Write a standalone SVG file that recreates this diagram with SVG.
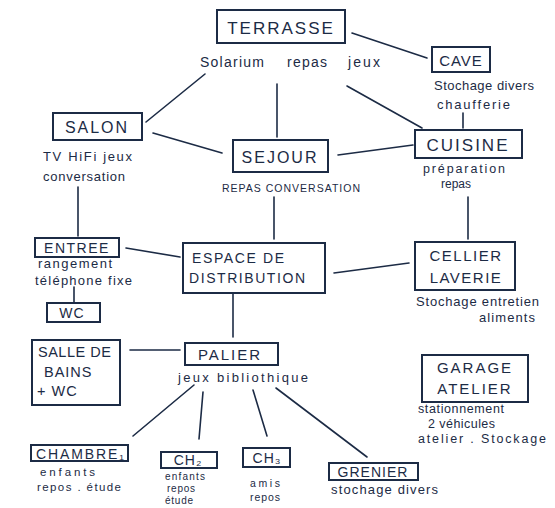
<svg xmlns="http://www.w3.org/2000/svg" width="555" height="508" viewBox="0 0 555 508">
<style>
.box{fill:none;stroke:#1c2b45;stroke-width:2}
.ln{stroke:#1c2b45;stroke-width:1.6;fill:none;stroke-linecap:round}
.t{font-family:"Liberation Sans",Arial,sans-serif;fill:#1c2b45}
.s{font-family:"Liberation Sans",Arial,sans-serif;fill:#1c2b45}
.m{text-anchor:middle}
</style>
<rect width="555" height="508" fill="#ffffff"/>
<g id="connectors">
<line class="ln" x1="205" y1="74" x2="146" y2="122"/>
<line class="ln" x1="277" y1="84" x2="277" y2="137"/>
<line class="ln" x1="352" y1="33" x2="427" y2="58"/>
<line class="ln" x1="347" y1="86" x2="422" y2="128"/>
<line class="ln" x1="153" y1="133" x2="222" y2="153"/>
<line class="ln" x1="338" y1="155" x2="413" y2="145"/>
<line class="ln" x1="463" y1="113" x2="463" y2="128"/>
<line class="ln" x1="78" y1="187" x2="78" y2="236"/>
<line class="ln" x1="274" y1="197" x2="274" y2="239"/>
<line class="ln" x1="468" y1="197" x2="468" y2="239"/>
<line class="ln" x1="126" y1="248" x2="180" y2="257"/>
<line class="ln" x1="334" y1="273" x2="409" y2="263"/>
<line class="ln" x1="74" y1="287" x2="74" y2="302"/>
<line class="ln" x1="233" y1="294" x2="233" y2="337"/>
<line class="ln" x1="130" y1="350" x2="180" y2="350"/>
<line class="ln" x1="194" y1="385" x2="133" y2="436"/>
<line class="ln" x1="203" y1="392" x2="199" y2="439"/>
<line class="ln" x1="253" y1="390" x2="267" y2="436"/>
<line class="ln" x1="276" y1="388" x2="367" y2="457"/>
</g>
<g id="terrasse">
<rect class="box" x="217" y="10" width="128" height="33"/>
<text class="t m" x="281" y="34" font-size="17" letter-spacing="2">TERRASSE</text>
<text class="s" x="200" y="67" font-size="14" textLength="64">Solarium</text>
<text class="s" x="287" y="67" font-size="14" textLength="40">repas</text>
<text class="s" x="348" y="67" font-size="14" textLength="32">jeux</text>
</g>
<g id="cave">
<rect class="box" x="432" y="47" width="58" height="25"/>
<text class="t m" x="461" y="66" font-size="15" letter-spacing="1">CAVE</text>
<text class="s" x="434" y="90" font-size="13" textLength="100">Stochage divers</text>
<text class="s" x="437" y="109" font-size="13" textLength="73">chaufferie</text>
</g>
<g id="salon">
<rect class="box" x="53" y="113" width="89" height="27"/>
<text class="t m" x="97" y="133" font-size="16" letter-spacing="2">SALON</text>
<text class="s" x="43" y="161" font-size="13" textLength="89">TV HiFi jeux</text>
<text class="s" x="43" y="181" font-size="13" textLength="82">conversation</text>
</g>
<g id="sejour">
<rect class="box" x="233" y="140" width="95" height="32"/>
<text class="t m" x="280" y="163" font-size="16" letter-spacing="2">SEJOUR</text>
<text class="s" x="222" y="192" font-size="10.5" textLength="138">REPAS CONVERSATION</text>
</g>
<g id="cuisine">
<rect class="box" x="415" y="130" width="107" height="28"/>
<text class="t m" x="468" y="151" font-size="17" letter-spacing="2">CUISINE</text>
<text class="s" x="423" y="173" font-size="12.5" textLength="82">préparation</text>
<text class="s" x="441" y="188" font-size="12">repas</text>
</g>
<g id="entree">
<rect class="box" x="35" y="238" width="84" height="19"/>
<text class="t m" x="77" y="253" font-size="14" letter-spacing="1.5">ENTREE</text>
<text class="s" x="38" y="268" font-size="13" textLength="74">rangement</text>
<text class="s" x="35" y="285" font-size="13" textLength="97">téléphone fixe</text>
</g>
<g id="wc">
<rect class="box" x="47" y="303" width="53" height="19"/>
<text class="t m" x="72" y="318" font-size="14" letter-spacing="1">WC</text>
</g>
<g id="espace">
<rect class="box" x="183" y="243" width="142" height="50"/>
<text class="t" x="192" y="263" font-size="14" textLength="92">ESPACE DE</text>
<text class="t" x="189" y="283" font-size="14" textLength="116">DISTRIBUTION</text>
</g>
<g id="cellier">
<rect class="box" x="415" y="242" width="100" height="48"/>
<text class="t m" x="466" y="261" font-size="15" letter-spacing="1.5">CELLIER</text>
<text class="t m" x="466" y="283" font-size="15" letter-spacing="1.5">LAVERIE</text>
<text class="s" x="416" y="306" font-size="13" textLength="123">Stochage entretien</text>
<text class="s" x="479" y="322" font-size="13" textLength="56">aliments</text>
</g>
<g id="salle">
<rect class="box" x="32" y="340" width="88" height="65"/>
<text class="t" x="38" y="357" font-size="14.5" letter-spacing="0.5">SALLE DE</text>
<text class="t" x="44" y="377" font-size="14.5" letter-spacing="1">BAINS</text>
<text class="t" x="37" y="396" font-size="14.5" letter-spacing="1">+ WC</text>
</g>
<g id="palier">
<rect class="box" x="185" y="343" width="93" height="22"/>
<text class="t m" x="230" y="360" font-size="15" letter-spacing="2">PALIER</text>
<text class="s" x="178" y="382" font-size="13" textLength="130">jeux bibliothique</text>
</g>
<g id="garage">
<rect class="box" x="422" y="355" width="106" height="47"/>
<text class="t m" x="475" y="373" font-size="15" letter-spacing="2">GARAGE</text>
<text class="t m" x="475" y="394" font-size="15" letter-spacing="2">ATELIER</text>
<text class="s" x="418" y="413" font-size="12.5" textLength="86">stationnement</text>
<text class="s" x="428" y="428" font-size="12.5" textLength="67">2 véhicules</text>
<text class="s" x="418" y="443" font-size="12.5" textLength="128">atelier . Stockage</text>
</g>
<g id="chambre1">
<rect class="box" x="31" y="445" width="97" height="16"/>
<text class="t" x="36" y="459" font-size="14" textLength="88">CHAMBRE₁</text>
<text class="s" x="40" y="476" font-size="11.5" textLength="55">enfants</text>
<text class="s" x="37" y="491" font-size="11.5" textLength="84">repos . étude</text>
</g>
<g id="ch2">
<rect class="box" x="161" y="452" width="56" height="16"/>
<text class="t m" x="188" y="465" font-size="14" letter-spacing="1">CH₂</text>
<text class="s" x="165" y="480" font-size="10" textLength="40">enfants</text>
<text class="s" x="167" y="492" font-size="10" textLength="28">repos</text>
<text class="s" x="165" y="504" font-size="10" textLength="28">étude</text>
</g>
<g id="ch3">
<rect class="box" x="243" y="448" width="47" height="19"/>
<text class="t m" x="267" y="463" font-size="14" letter-spacing="1">CH₃</text>
<text class="s" x="250" y="487" font-size="10.5" textLength="30">amis</text>
<text class="s" x="250" y="501" font-size="10.5" textLength="30">repos</text>
</g>
<g id="grenier">
<rect class="box" x="329" y="463" width="89" height="17"/>
<text class="t m" x="373" y="477" font-size="14" letter-spacing="1">GRENIER</text>
<text class="s" x="331" y="494" font-size="13" textLength="107">stochage divers</text>
</g>
</svg>
